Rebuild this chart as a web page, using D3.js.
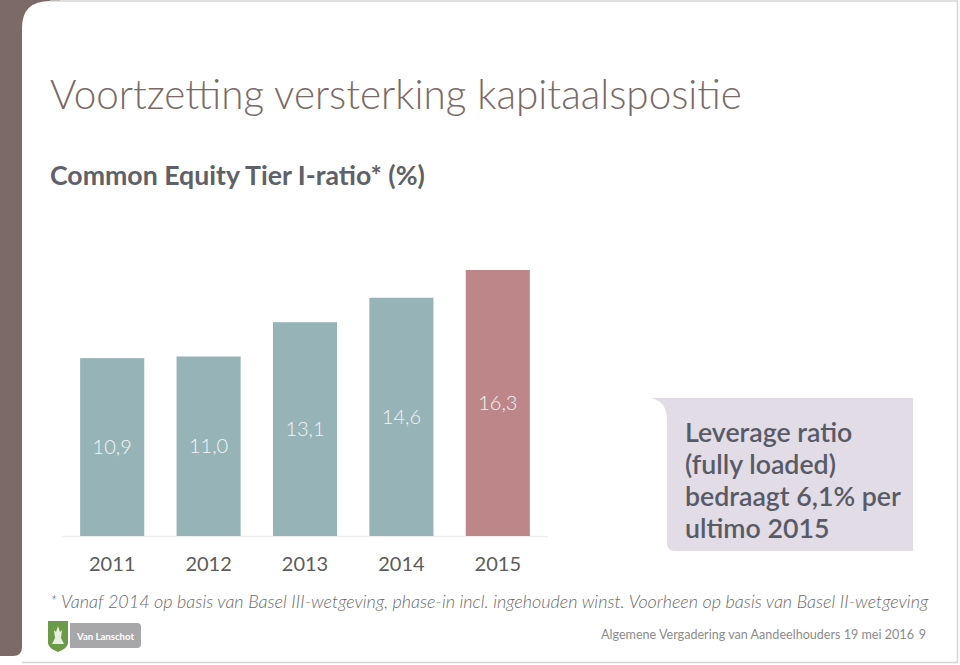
<!DOCTYPE html>
<html>
<head>
<meta charset="utf-8">
<script src="https://cdn.jsdelivr.net/npm/d3@7"></script>
<style>
  html, body { margin: 0; padding: 0; background: #ffffff; }
  svg { display: block; }
  text { font-family: Lato, "Open Sans", sans-serif; }
</style>
</head>
<body>
<svg id="chart" width="960" height="665"></svg>
<script>
// ---- data ----
const years = ["2011", "2012", "2013", "2014", "2015"];
const ratios = [10.9, 11.0, 13.1, 14.6, 16.3];
const valueLabels = ["10,9", "11,0", "13,1", "14,6", "16,3"];
const highlightYear = "2015";
const title = "Voortzetting versterking kapitaalspositie";
const subtitle = "Common Equity Tier I-ratio* (%)";
const calloutLines = ["Leverage ratio", "(fully loaded)", "bedraagt 6,1% per", "ultimo 2015"];
const footnote = "* Vanaf 2014 op basis van Basel III-wetgeving, phase-in incl. ingehouden winst. Voorheen op basis van Basel II-wetgeving";
const footerText = "Algemene Vergadering van Aandeelhouders 19 mei 2016";
const pageNumber = "9";
const brandName = "Van Lanschot";

const svg = d3.select("#chart");
const brown = "#7b6a66";

function fit(sel, w) {
  const n = sel.node();
  const fs = parseFloat(sel.attr("font-size"));
  const len = n.getComputedTextLength();
  if (len > 0) sel.attr("font-size", (fs * w / len).toFixed(2));
  return sel;
}

// ---- page frame ----
svg.append("rect").attr("x", 0).attr("y", 0).attr("width", 960).attr("height", 665).attr("fill", "#ffffff");
svg.append("path")
  .attr("d", "M0,0 H60 V60 H0 Z")
  .attr("fill", brown);
svg.append("path")
  .attr("d", "M0,0 H22 V647 Q22,656 13,656 H0 Z")
  .attr("fill", brown);
svg.append("path")
  .attr("d", "M22,28 Q22,1 50,1 H957.5 V662.5 H22 Z")
  .attr("fill", "#ffffff");
svg.append("path")
  .attr("d", "M50,1 H957.5 V662.5 H22")
  .attr("fill", "none").attr("stroke", "#d6d6d6").attr("stroke-width", 1.5);

// ---- titles ----
const t = svg.append("text").attr("x", 50).attr("y", 109)
  .attr("font-size", 38).attr("font-weight", 300).attr("fill", brown).text(title);
fit(t, 692);
const st = svg.append("text").attr("x", 50).attr("y", 185)
  .attr("font-size", 24).attr("font-weight", 700).attr("fill", "#5f6168").text(subtitle);
fit(st, 375);

// ---- chart ----
const x = d3.scaleBand().domain(years).range([64, 546]).paddingInner(0.335).paddingOuter(0.1675);
const y = d3.scaleLinear().domain([0, 16.3]).range([536, 270]);

svg.append("line").attr("x1", 62).attr("x2", 548).attr("y1", 536.5).attr("y2", 536.5)
  .attr("stroke", "#eeeeee").attr("stroke-width", 1.5);

const data = years.map((yr, i) => ({ yr, v: ratios[i], label: valueLabels[i] }));

svg.selectAll("rect.bar").data(data).enter().append("rect")
  .attr("class", "bar")
  .attr("x", d => x(d.yr))
  .attr("width", x.bandwidth())
  .attr("y", d => y(d.v))
  .attr("height", d => y(0) - y(d.v))
  .attr("fill", d => d.yr === highlightYear ? "#bd878a" : "#96b3b8");

svg.selectAll("text.val").data(data).enter().append("text")
  .attr("class", "val")
  .attr("x", d => x(d.yr) + x.bandwidth() / 2)
  .attr("y", d => (y(d.v) + y(0)) / 2 + 7)
  .attr("text-anchor", "middle")
  .attr("font-size", 20).attr("font-weight", 300)
  .attr("fill", "#f3f6f7")
  .text(d => d.label);

const xAxis = svg.append("g").attr("transform", "translate(0,536)")
  .call(d3.axisBottom(x).tickSize(0).tickPadding(0));
xAxis.select(".domain").remove();
xAxis.selectAll("text")
  .attr("y", 35).attr("dy", 0)
  .attr("font-size", 20).attr("font-weight", 400).attr("font-family", "Lato, sans-serif")
  .attr("fill", "#5c5c5c");

// ---- callout ----
svg.append("path")
  .attr("d", "M649,398 H913 V551 H675 Q667,551 667,543 V420 Q667,400 649,398 Z")
  .attr("fill", "#e1dce6");
const cg = svg.append("g");
calloutLines.forEach((ln, i) => {
  cg.append("text").attr("x", 685).attr("y", 442 + i * 32)
    .attr("font-size", 24).attr("font-weight", 600).attr("fill", "#585b65").text(ln);
});
fit(cg.select("text:nth-child(3)"), 216);
const cfs = cg.select("text:nth-child(3)").attr("font-size");
cg.selectAll("text").attr("font-size", cfs);

// ---- footnote ----
const fn = svg.append("text").attr("x", 50).attr("y", 608)
  .attr("font-size", 17).attr("font-weight", 300).attr("font-style", "italic")
  .attr("fill", "#6b6b6b").text(footnote);
fit(fn, 879);

// ---- footer ----
const ft = svg.append("text").attr("x", 601).attr("y", 639)
  .attr("font-size", 14).attr("font-weight", 400).attr("fill", "#8c8c8c").text(footerText);
fit(ft, 313);
svg.append("text").attr("x", 926).attr("y", 639).attr("text-anchor", "end")
  .attr("font-size", ft.attr("font-size")).attr("fill", "#8c8c8c").text(pageNumber);

// ---- logo ----
const logo = svg.append("g");
logo.append("path")
  .attr("d", "M70,623 H137 Q141,623 141,627 V644 Q141,648 137,648 H70 Z")
  .attr("fill", "#a7a7a9");
logo.append("path")
  .attr("d", "M48,621 H68 V643 Q68,648 58,652 Q48,648 48,643 Z")
  .attr("fill", "#6b9a48");
logo.append("path")
  .attr("d", "M58,626 L60,632 L62,630 L61,638 L64,644 H52 L55,638 L54,630 L56,632 Z")
  .attr("fill", "#e8efe2");
const lt = logo.append("text").attr("x", 77).attr("y", 640)
  .attr("font-family", "'DejaVu Serif', 'Liberation Serif', serif")
  .attr("font-size", 12).attr("font-weight", 700).attr("fill", "#ffffff").text(brandName);
fit(lt, 57);
</script>
</body>
</html>
